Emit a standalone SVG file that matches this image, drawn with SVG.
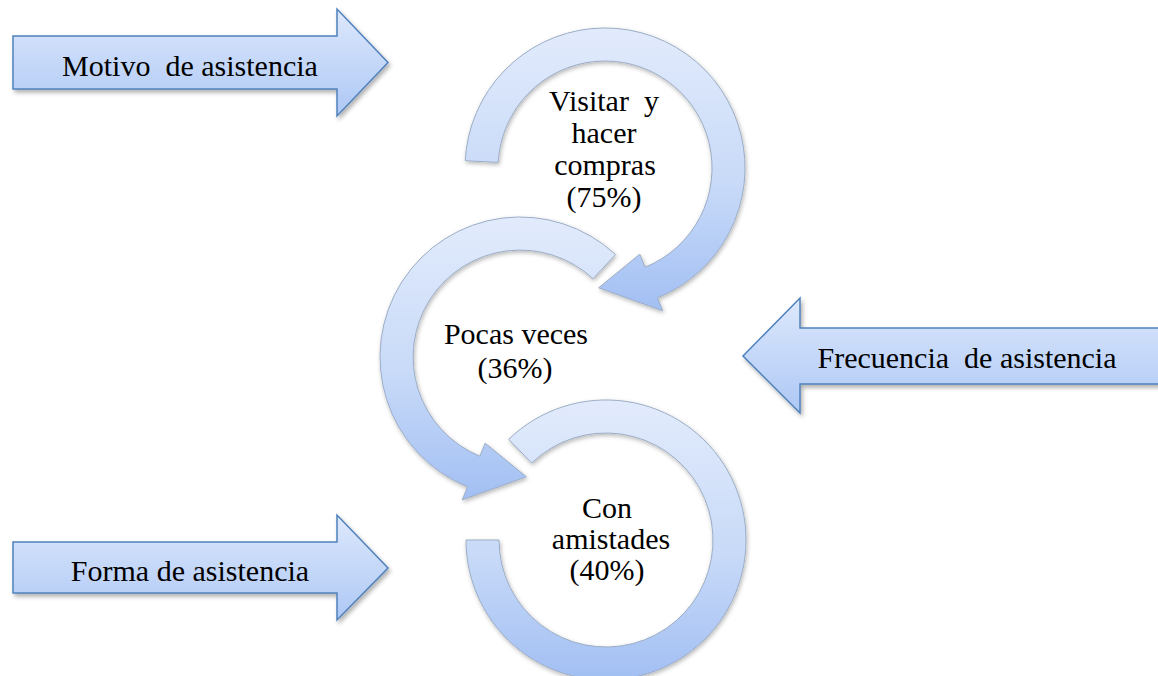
<svg xmlns="http://www.w3.org/2000/svg" width="1158" height="676" viewBox="0 0 1158 676">
  <defs>
    <linearGradient id="blockFill" x1="0" y1="0" x2="0" y2="1">
      <stop offset="0" stop-color="#dde8fc"/>
      <stop offset="1" stop-color="#adc8f5"/>
    </linearGradient>
    <linearGradient id="ringFill" x1="0" y1="0" x2="0" y2="1">
      <stop offset="0" stop-color="#e2ebfc"/>
      <stop offset="0.55" stop-color="#c8daf8"/>
      <stop offset="1" stop-color="#a2bff3"/>
    </linearGradient>
    <filter id="shadow" x="-10%" y="-10%" width="125%" height="130%">
      <feDropShadow dx="2" dy="3" stdDeviation="2" flood-color="#000" flood-opacity="0.3"/>
    </filter>
    <filter id="ringShadow" x="-10%" y="-10%" width="125%" height="125%">
      <feDropShadow dx="1" dy="2" stdDeviation="2" flood-color="#000" flood-opacity="0.28"/>
    </filter>
  </defs>
  <style>
    .block { fill: url(#blockFill); stroke: #4f81bd; stroke-width: 1.5; filter: url(#shadow); }
    .ring { fill: url(#ringFill); stroke: #9badc6; stroke-width: 1; filter: url(#ringShadow); }
    .label { font-family: "Liberation Serif", "Times New Roman", serif; font-size: 30px; fill: #000; text-anchor: middle; }
  </style>

  <rect width="1158" height="676" fill="#fff"/>

  <!-- side block arrows -->
  <g id="motivo">
    <polygon class="block" points="13,36 337,36 337,9 388,62.5 337,116 337,89 13,89"/>
    <text class="label" x="190" y="76" xml:space="preserve">Motivo  de asistencia</text>
  </g>
  <g id="frecuencia">
    <polygon class="block" points="1170,328 800,328 800,298 743,356 800,413 800,384 1170,384"/>
    <text class="label" x="967" y="368" xml:space="preserve">Frecuencia  de asistencia</text>
  </g>
  <g id="forma">
    <polygon class="block" points="13,542 337,542 337,515 388,568 337,620 337,593 13,593"/>
    <text class="label" x="190" y="581">Forma de asistencia</text>
  </g>

  <!-- circular arrows, drawn top to bottom -->
  <g id="connectors">
    <path class="ring" d="M465.2,160.7 A140,140 0 1 1 657.4,297.8 L662.7,310.8 L598.7,287.8 L639.8,254.2 L645.1,267.2 A107,107 0 1 0 498.2,162.4 Z"/>
    <path class="ring" d="M615.5,254.6 A140,140 0 1 0 467.6,486.8 L462.3,499.8 L526.3,476.8 L485.2,443.2 L479.9,456.2 A107,107 0 1 1 593.0,278.7 Z"/>
    <path class="ring" d="M466,540 A140,140 0 1 0 508.7,439.3 L531.7,463.0 A107,107 0 1 1 499,540 Z"/>
  </g>

  <g id="visitar">
    <text class="label" x="604" y="111" xml:space="preserve">Visitar  y</text>
    <text class="label" x="604" y="143">hacer</text>
    <text class="label" x="605" y="175">compras</text>
    <text class="label" x="604" y="207">(75%)</text>
  </g>
  <g id="pocas">
    <text class="label" x="516" y="344">Pocas veces</text>
    <text class="label" x="515" y="378">(36%)</text>
  </g>
  <g id="amistades">
    <text class="label" x="607" y="518">Con</text>
    <text class="label" x="611" y="549">amistades</text>
    <text class="label" x="607" y="580">(40%)</text>
  </g>
</svg>
